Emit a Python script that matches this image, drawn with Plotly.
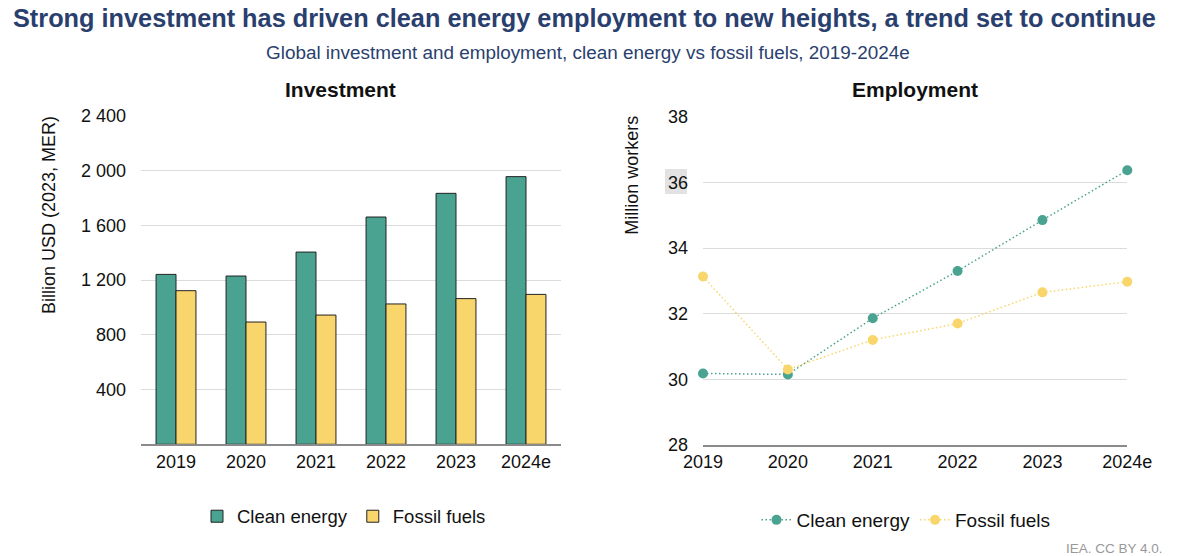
import plotly.graph_objects as go

years = ["2019", "2020", "2021", "2022", "2023", "2024e"]
invest_clean = [1241, 1229, 1404, 1660, 1833, 1955]
invest_fossil = [1122, 893, 944, 1025, 1064, 1095]
employ_clean = [30.18, 30.15, 31.86, 33.30, 34.85, 36.37]
employ_fossil = [33.13, 30.30, 31.20, 31.70, 32.65, 32.97]
invest_ticks = [400, 800, 1200, 1600, 2000, 2400]
invest_ticktext = ["400", "800", "1 200", "1 600", "2 000", "2 400"]
employ_ticks = [28, 30, 32, 34, 36, 38]

TEAL = "#4aa391"
YELLOW = "#f9d66c"
NAVY = "#2a3f6e"
FONT = "Liberation Sans, Arial, sans-serif"
W, H = 1200, 556

fig = go.Figure()
fig.add_trace(go.Bar(x=years, y=invest_clean, name="Clean energy", marker=dict(color=TEAL, line=dict(color="#222", width=1)),
                     xaxis="x", yaxis="y", legend="legend"))
fig.add_trace(go.Bar(x=years, y=invest_fossil, name="Fossil fuels", marker=dict(color=YELLOW, line=dict(color="#222", width=1)),
                     xaxis="x", yaxis="y", legend="legend"))
fig.add_trace(go.Scatter(x=years, y=employ_clean, name="Clean energy", mode="lines+markers",
                         line=dict(color=TEAL, width=1.5, dash="1.5px,2.5px"), marker=dict(color=TEAL, size=10),
                         xaxis="x2", yaxis="y2", legend="legend2", cliponaxis=False))
fig.add_trace(go.Scatter(x=years, y=employ_fossil, name="Fossil fuels", mode="lines+markers",
                         line=dict(color=YELLOW, width=1.5, dash="1.5px,2.5px"), marker=dict(color=YELLOW, size=10),
                         xaxis="x2", yaxis="y2", legend="legend2", cliponaxis=False))

tickfont = dict(family=FONT, size=18, color="#111")

fig.update_layout(
    template="none",
    width=W, height=H,
    margin=dict(l=0, r=0, t=0, b=0, pad=0, autoexpand=False),
    paper_bgcolor="white", plot_bgcolor="white",
    font=dict(family=FONT, color="#111"),
    barmode="group", bargap=0.43, bargroupgap=0,
    xaxis=dict(domain=[141/W, 561/W], anchor="y", type="category", range=[-0.5, 5.5], automargin=False,
               showgrid=False, showline=True, linecolor="#8a8a8a", linewidth=1.5, tickfont=tickfont, ticks=""),
    yaxis=dict(domain=[1-444.3/H, 1-115.7/H], anchor="x", range=[0, 2400], tickvals=invest_ticks, ticktext=invest_ticktext,
               showgrid=True, gridcolor="#dcdcdc", gridwidth=1.2, zeroline=False, showline=False, automargin=False,
               tickfont=tickfont, ticks="", ticklabelstandoff=14),
    xaxis2=dict(domain=[703/W, 1127.3/W], anchor="y2", type="category", range=[0, 5], automargin=False,
                showgrid=False, showline=True, linecolor="#8a8a8a", linewidth=1.5, tickfont=tickfont, ticks=""),
    yaxis2=dict(domain=[1-445/H, 1-116.7/H], anchor="x2", range=[28, 38], tickvals=employ_ticks, automargin=False,
                showgrid=True, gridcolor="#dcdcdc", gridwidth=1.2, zeroline=False, showline=False,
                tickfont=tickfont, ticks="", ticklabelstandoff=14),
    legend=dict(orientation="h", x=344/W, y=1-516.7/H, xanchor="center", yanchor="middle",
                font=dict(family=FONT, size=18.5, color="#111"), bgcolor="rgba(0,0,0,0)"),
    legend2=dict(orientation="h", x=906/W, y=1-520/H, xanchor="center", yanchor="middle",
                 font=dict(family=FONT, size=19, color="#111"), bgcolor="rgba(0,0,0,0)"),
    showlegend=True,
)

fig.add_shape(type="rect", xref="paper", yref="paper", x0=665/W, x1=687/W, y0=1-194/H, y1=1-169/H,
              fillcolor="#e2e2e2", line=dict(width=0), layer="below")

ann = [
    dict(text="<b>Strong investment has driven clean energy employment to new heights, a trend set to continue</b>",
         x=584/W, y=1-18/H, font=dict(size=25.3, color=NAVY)),
    dict(text="Global investment and employment, clean energy vs fossil fuels, 2019-2024e",
         x=588/W, y=1-53/H, font=dict(size=18.9, color=NAVY)),
    dict(text="<b>Investment</b>", x=340/W, y=1-89/H, font=dict(size=21, color="#111")),
    dict(text="<b>Employment</b>", x=915/W, y=1-89/H, font=dict(size=21, color="#111")),
    dict(text="Billion USD (2023, MER)", x=49/W, y=1-215/H, textangle=-90, font=dict(size=18, color="#111")),
    dict(text="Million workers", x=631.7/W, y=1-175/H, textangle=-90, font=dict(size=18, color="#111")),
    dict(text="IEA. CC BY 4.0.", x=1165/W, y=1-548/H, xanchor="right", font=dict(size=13.5, color="#999")),
]
for a in ann:
    a.setdefault("xanchor", "center")
    fig.add_annotation(xref="paper", yref="paper", yanchor="middle", showarrow=False, **a)
for a in fig.layout.annotations:
    a.font.family = FONT

fig.write_html("out.html", config={"displayModeBar": False},
               post_script="document.body.style.margin='0px';document.body.style.padding='0px';")
